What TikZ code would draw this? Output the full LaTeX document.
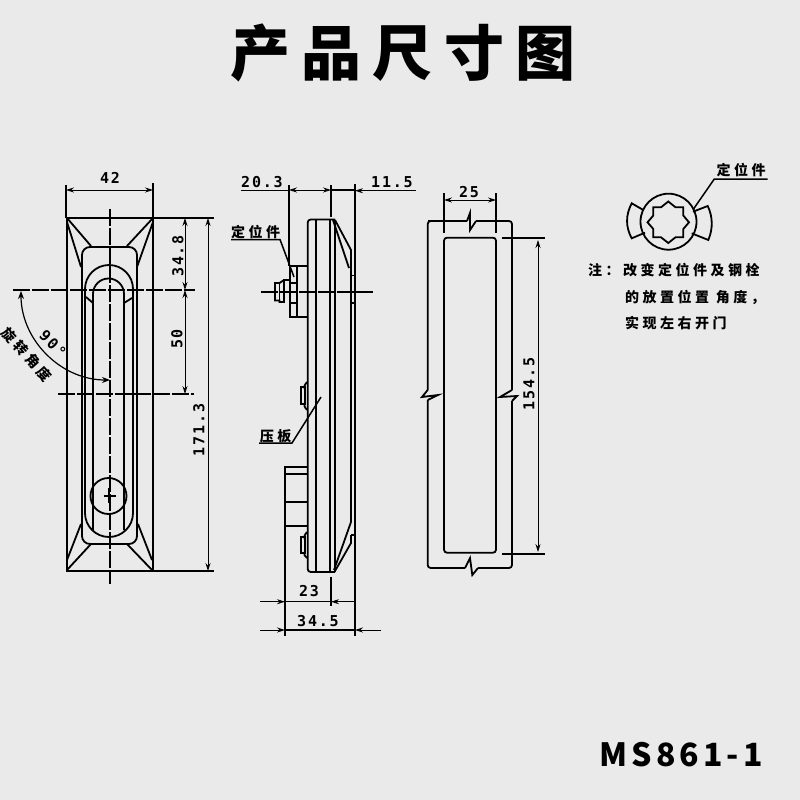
\documentclass[tikz,border=0pt]{standalone}
\usepackage{fontspec}
\usetikzlibrary{arrows.meta}
\newfontfamily\cjkfont{Noto Sans CJK SC}
\newfontfamily\dimfont{DejaVu Sans Mono}
\definecolor{paper}{HTML}{EAEAEA}
\tikzset{
	part/.style={line width=1.8pt},
	extline/.style={line width=1.5pt},
	dimline/.style={line width=0.8pt,{Stealth[length=8pt,width=5pt]}-{Stealth[length=8pt,width=5pt]}},
	dimtip/.style={line width=0.8pt,-{Stealth[length=8pt,width=5pt]}},
	axisline/.style={line width=1.4pt,dash pattern=on 17pt off 2pt},
	dimtext/.style={inner sep=0pt,font=\dimfont\bfseries\fontsize{15}{15}\selectfont\addfontfeature{LetterSpace=12}},
	cjktext/.style={inner sep=0pt,font=\cjkfont\bfseries\fontsize{14}{14}\selectfont\addfontfeature{LetterSpace=25}},
	notetext/.style={cjktext,anchor=west}
}
\begin{document}
\begin{tikzpicture}[x=1pt,y=-1pt]
	\fill[paper] (0,0) rectangle (800,800);
	\useasboundingbox (0,0) rectangle (800,800);
	\node (title) at (403,53) {\cjkfont\bfseries\fontsize{60}{60}\selectfont\addfontfeature{LetterSpace=19}产品尺寸图};
	\node (model) at (681,755) {\cjkfont\bfseries\fontsize{32}{32}\selectfont\addfontfeature{LetterSpace=13}MS861-1};

	% left view
	\draw[part] (67,218) -- (67,571);
	\draw[part] (153,218) -- (153,571);
	\draw[part] (66,218) -- (214,218);
	\draw[part] (66,571) -- (214,571);
	\draw[part,rounded corners=8pt] (82,247) rectangle (137,544);
	\draw[part] (67,218) -- (91,246) (153,218) -- (127,246);
	\draw[part] (67,222) -- (81,267) (153,222) -- (137,267);
	\draw[part] (67,570) -- (91,544) (152,570) -- (127,544);
	\draw[part] (67,560) -- (81,524) (152,560) -- (138,524);
	\draw[part] (85,513) -- (85,289) arc[start angle=180,end angle=360,radius=24] -- (133,513) arc[start angle=0,end angle=180,radius=24];
	\draw[part] (93,530) -- (93,294) arc[start angle=180,end angle=360,radius=15.5] -- (124,530);
	\draw[part] (86,297) -- (93,303) (124,303) -- (132,298);
	\draw[part] (108.5,496) circle (18);
	\draw[part] (103.5,496) -- (116,496) (109,488) -- (109,503);
	\draw[axisline] (110,209) -- (110,584);
	\draw[axisline] (13,290) -- (195,290);
	\draw[axisline] (58,394) -- (194,394);
	\draw[extline] (66,185) -- (66,218) (153,183) -- (153,218);
	\draw[dimline] (66,190) -- (153,190);
	\node[dimtext] (w42) at (110,178) {42};
	\draw[dimline] (185,218) -- (185,290);
	\node[dimtext,rotate=90] (h348) at (178,256) {34.8};
	\draw[dimline] (185,290) -- (185,394);
	\node[dimtext,rotate=90] (h50) at (177,339) {50};
	\draw[dimline] (208,218) -- (208,571);
	\node[dimtext,rotate=90] (h1713) at (199,430) {171.3};
	\draw[line width=1.2pt,{Stealth[length=8pt,width=6pt]}-{Stealth[length=8pt,width=6pt]}] (21,291) .. controls (21,340) and (61,380) .. (110,380);
	\node[dimtext,rotate=-45] (turn90) at (53,344) {90°};
	\node[cjktext,rotate=-48] (turnlabel) at (27,355) {旋转角度};

	% side view
	\draw[part,rounded corners=3pt] (335,219.5) -- (307.7,219.5) -- (307.7,572) -- (335,572);
	\draw[part] (315.7,219.5) -- (315.7,572);
	\draw[part] (330,219.5) -- (330,572);
	\draw[part] (335,219.5) -- (335,572);
	\draw[part] (335,220) -- (351,250) -- (351,522);
	\draw[part] (333,220) -- (349,268);
	\draw[part] (351,522) -- (334,570);
	\draw[part] (351,535) -- (351,543) -- (335,571);
	\draw[part] (351,275.5) -- (355,275.5) (351,303) -- (355,303) (351,535) -- (355,535);
	\draw[extline] (355,184) -- (355,636);
	\draw[part] (307.7,266) -- (290,266) -- (290,316.7) -- (307.7,316.7);
	\draw[part] (296.7,266) -- (296.7,316.7);
	\draw[part] (290,283) -- (296.7,283) (290,303) -- (296.7,303);
	\draw[part] (290,280) -- (284,280) -- (284,302) -- (279.5,302) -- (279.5,300.5) -- (275,300.5) -- (275,283) -- (279.5,283) -- (284,280);
	\draw[part] (279.5,283) -- (279.5,300.5);
	\draw[axisline] (261,292) -- (373,292);
	\draw[part] (301,387) rectangle (305,404);
	\draw[part] (307,382) .. controls (304,386) .. (305,390) (305,402) .. controls (304,406) .. (307,410);
	\draw[part] (301,537) rectangle (305,553);
	\draw[part] (307,532) .. controls (304,536) .. (305,540) (305,551) .. controls (304,555) .. (307,558);
	\draw[part] (307.7,466.7) -- (285,466.7) -- (285,636);
	\draw[part] (285,474) -- (307.7,474) (285,501.7) -- (307.7,501.7) (285,526) -- (307.7,526);
	\draw[extline] (289,185) -- (289,266);
	\draw[extline] (331,185) -- (331,217);
	\draw[extline] (331,190) -- (355,190);
	\draw[extline] (241,190.7) -- (289,190.7);
	\draw[dimline] (289,190) -- (331,190);
	\draw[dimtip] (416,190.7) -- (355,190.7);
	\node[dimtext] (d203) at (262,182) {20.3};
	\node[dimtext] (d115) at (392,182) {11.5};
	\node[cjktext] (lockside) at (255.5,232) {定位件};
	\draw[extline] (231,239.5) -- (280,239.5) -- (294,277);
	\node[cjktext] (plate) at (275.5,436) {压板};
	\draw[extline] (259,443) -- (292,443) -- (321,397);
	\draw[extline] (331,576.7) -- (331,606);
	\draw[extline] (285,601.7) -- (331,601.7);
	\draw[dimtip] (260,601.7) -- (285,601.7);
	\draw[dimtip] (355,601.7) -- (331,601.7);
	\node[dimtext] (d23) at (309,591) {23};
	\draw[extline] (285,630) -- (355,630);
	\draw[dimtip] (260,630) -- (285,630);
	\draw[dimtip] (381,630) -- (355,630);
	\node[dimtext] (d345) at (318,621) {34.5};

	% back view
	\draw[part,rounded corners=3pt] (467,221) -- (431,221) -- (427.7,221) -- (427.7,390);
	\draw[part] (467,221) -- (470,213) -- (470,230) -- (476,221);
	\draw[part,rounded corners=3pt] (476,221) -- (512,221) -- (512,390);
	\draw[part] (427.7,390) -- (422,397) -- (438,395) -- (427.7,400);
	\draw[part] (512,390) -- (500,397) -- (517,396) -- (512,401);
	\draw[part,rounded corners=3pt] (427.7,400) -- (427.7,568) -- (465,568);
	\draw[part,rounded corners=3pt] (512,401) -- (512,568) -- (478,568);
	\draw[part] (465,568) -- (470,558) -- (472.3,575) -- (478,568);
	\draw[part,rounded corners=3pt] (444,237.7) rectangle (496,552.7);
	\draw[extline] (444,193) -- (444,233) (496,193) -- (496,233);
	\draw[dimline] (444,200) -- (496,200);
	\node[dimtext] (w25) at (469,192) {25};
	\draw[extline] (502,238) -- (545,238) (502,554) -- (545,554);
	\draw[dimline] (538,240) -- (538,552);
	\node[dimtext,rotate=90] (h1545) at (529,384) {154.5};

	% locator
	\draw[part] (668.5,221.7) circle (28);
	\draw[part] (668.3,201.5) -- (661,207.3) -- (653.3,207.3) -- (653.3,215.5) -- (647.5,222.3) -- (653.3,229) -- (653.3,237.3) -- (661,237.3) -- (668.3,243) -- (675.5,237.3) -- (683.3,237.3) -- (683.3,229) -- (689,222.3) -- (683.3,215.5) -- (683.3,207.3) -- (675.5,207.3) -- cycle;
	\draw[part] (643.3,210) -- (631.7,203.3) .. controls (625.5,215) and (625.5,227) .. (631.7,238.3) -- (645,232.7);
	\draw[part] (693,211.7) -- (707.7,206) .. controls (713,217) and (713,229) .. (708.3,240) -- (691.7,233.3);
	\node[cjktext] (locktop) at (741,170) {定位件};
	\draw[extline] (693.3,209.3) -- (714.3,179) -- (767.7,179);
	\node[notetext] (noteA) at (588,270) {注：改变定位件及钢栓};
	\node[notetext] (noteB) at (625,297) {的放置位置 角度，};
	\node[notetext] (noteC) at (625,323) {实现左右开门};
\end{tikzpicture}
\end{document}
